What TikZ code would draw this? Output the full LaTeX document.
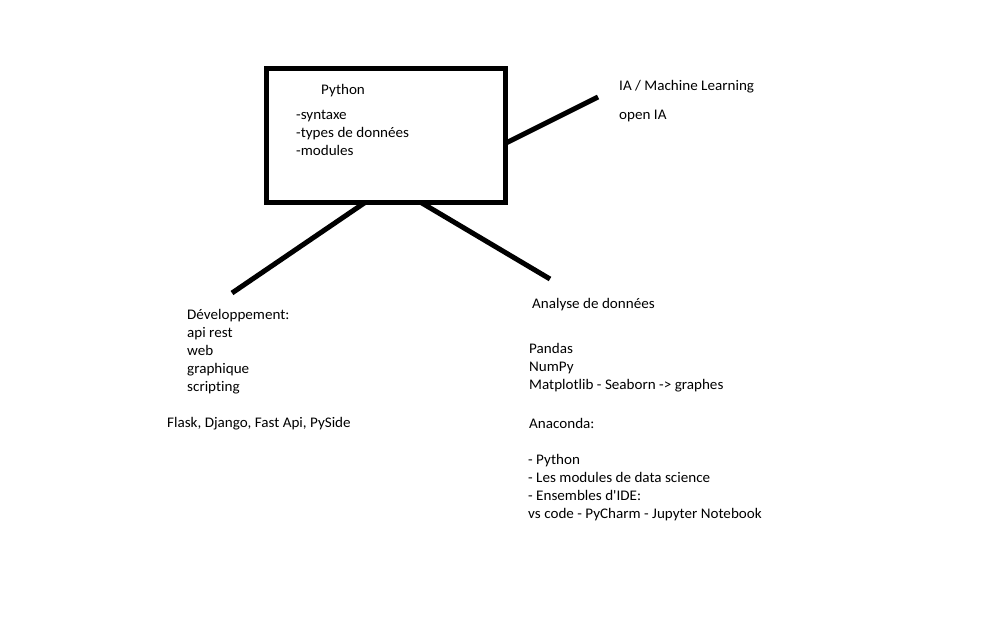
\documentclass[tikz,border=0pt]{standalone}
\usepackage{fontspec}
\setmainfont[FakeStretch=1.03,Ligatures={TeXOff,NoCommon}]{Carlito}
\begin{document}
\begin{tikzpicture}[x=1pt,y=-1pt,
  txt/.style={anchor=base west,inner sep=0pt,font=\fontsize{14.67}{18}\selectfont},
  thick5/.style={line width=5pt},
  bx/.style={draw,line width=5pt,minimum width=239.5pt,minimum height=134.5pt,inner sep=0pt}]
\useasboundingbox[fill=white] (0,0) rectangle (1008,630);
\node[bx] (py) at (385.75,135.25) {};
\node[txt] (t1) at (321,94) {Python};
\node[txt] (t2) at (296,119) {-syntaxe};
\node[txt] (t3) at (296,137) {-types de données};
\node[txt] (t4) at (296,155) {-modules};
% right
\coordinate (r0) at (506,143);
\coordinate (r1) at (598,97);
\draw[thick5] (r0) -- (r1);
\node[txt] (ia1) at (619,90) {IA / Machine Learning};
\node[txt] (ia2) at (619,119) {open IA};
% left
\coordinate (l0) at (365,202.5);
\coordinate (l1) at (232,293);
\draw[thick5] (l0) -- (l1);
\node[txt] (d1) at (187,319) {Développement:};
\node[txt] (d2) at (187,337) {api rest};
\node[txt] (d3) at (187,355) {web};
\node[txt] (d4) at (187,373) {graphique};
\node[txt] (d5) at (187,391) {scripting};
\node[txt] (d6) at (167,427) {Flask, Django, Fast Api, PySide};
% bottom right
\coordinate (b0) at (421,202.5);
\coordinate (b1) at (550,279);
\draw[thick5] (b0) -- (b1);
\node[txt] (a1) at (532,308) {Analyse de données};
\node[txt] (a2) at (529,353) {Pandas};
\node[txt] (a3) at (529,371) {NumPy};
\node[txt] (a4) at (529,389) {Matplotlib - Seaborn -> graphes};
\node[txt] (a5) at (529,428) {Anaconda:};
\node[txt] (a6) at (528,464) {- Python};
\node[txt] (a7) at (528,482) {- Les modules de data science};
\node[txt] (a8) at (528,500) {- Ensembles d'IDE:};
\node[txt] (a9) at (528,518) {vs code - PyCharm - Jupyter Notebook};
\end{tikzpicture}
\end{document}
